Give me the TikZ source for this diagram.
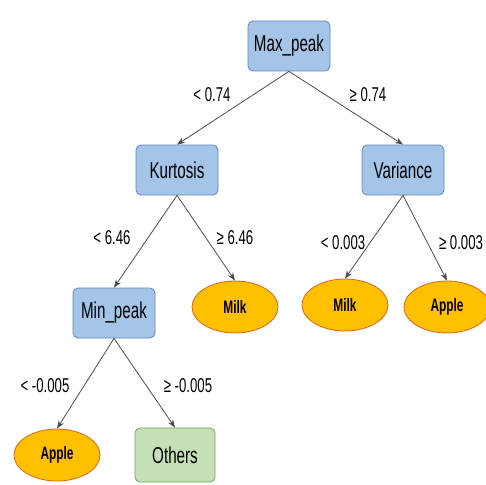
\documentclass[tikz,border=0pt]{standalone}
\usepackage{fontspec}
\setmainfont{Liberation Sans}[FakeStretch=0.66]
\usepackage{tikz}
\usetikzlibrary{positioning, arrows.meta, shapes}
\definecolor{splitfill}{RGB}{164,196,232}
\definecolor{splitdraw}{RGB}{100,134,180}
\definecolor{leaffill}{RGB}{255,192,0}
\definecolor{leafdraw}{RGB}{222,100,30}
\definecolor{otherfill}{RGB}{197,224,180}
\definecolor{otherdraw}{RGB}{120,160,100}
\tikzset{split/.style={
        draw=splitdraw,
        line width=0.8pt,
        rounded corners=5pt,
        minimum width=82pt,
        minimum height=50pt,
        inner sep=2pt,
        align=center,
        fill=splitfill,
        font=\fontsize{23}{23}\selectfont
}}
\tikzset{leaf/.style={
        draw=leafdraw,
        line width=0.8pt,
        ellipse,
        minimum width=86pt,
        minimum height=52pt,
        inner sep=0pt,
        fill=leaffill,
        font=\fontsize{18}{18}\selectfont\bfseries
}}
\tikzset{other/.style={
        draw=otherdraw,
        line width=0.8pt,
        rounded corners=5pt,
        minimum width=80pt,
        minimum height=54pt,
        inner sep=2pt,
        fill=otherfill,
        font=\fontsize{23}{23}\selectfont
}}
\tikzset{treeedge/.style={draw=black!70,thick,-{Stealth[length=8pt,width=6pt]}}}
\tikzset{cond/.style={font=\fontsize{20}{20}\selectfont}}

\begin{document}
\begin{tikzpicture}[x=1pt,y=-1pt]
\useasboundingbox (0,0) rectangle (486,484);
\node[split] (maxpeak) at (289,46) {Max\_peak};
\node[split] (kurt) at (177,170) {Kurtosis};
\node[split] (var) at (403,170) {Variance};
\node[split] (minpeak) at (114,313) {Min\_peak};
\node[leaf] (milk1) at (235,307) {Milk};
\node[leaf] (milk2) at (345,305) {Milk};
\node[leaf] (apple1) at (447,307) {Apple};
\node[leaf] (apple2) at (57,455) {Apple};
\node[other] (others) at (175,455) {Others};

\node[cond] (c1) at (212,95) {< 0.74};
\node[cond] (c2) at (368,95) {≥ 0.74};
\node[cond] (c3) at (112,238) {< 6.46};
\node[cond] (c4) at (235,238) {≥ 6.46};
\node[cond] (c5) at (343,243) {< 0.003};
\node[cond] (c6) at (461,243) {≥ 0.003};
\node[cond] (c7) at (45,386) {< -0.005};
\node[cond] (c8) at (188,386) {≥ -0.005};

\draw[treeedge] (maxpeak.south) -- (kurt.north);
\draw[treeedge] (maxpeak.south) -- (var.north);
\draw[treeedge] (kurt.south) -- (minpeak.north);
\draw[treeedge] (kurt.south) -- (milk1.north);
\draw[treeedge] (var.south) -- (milk2.north);
\draw[treeedge] (var.south) -- (apple1.north);
\draw[treeedge] (minpeak.south) -- (apple2.north);
\draw[treeedge] (minpeak.south) -- (others.north);
\end{tikzpicture}
\end{document}
